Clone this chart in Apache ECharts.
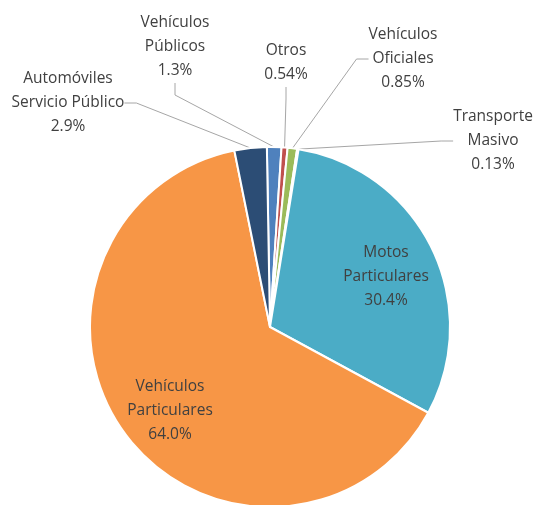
<!DOCTYPE html>
<html>
<head>
<meta charset="utf-8">
<title>Parque automotor</title>
<script src="https://cdn.jsdelivr.net/npm/echarts@6/dist/echarts.min.js"></script>
<style>
  html, body { margin: 0; padding: 0; background: #fff; }
  #chart { width: 545px; height: 505px; }
</style>
</head>
<body>
<div id="chart"></div>
<script>
// categories in drawing order (clockwise from the top)
const categories = [
  "Vehículos\nPúblicos",
  "Otros",
  "Vehículos\nOficiales",
  "Transporte\nMasivo",
  "Motos\nParticulares",
  "Vehículos\nParticulares",
  "Automóviles\nServicio Público"
];
const shares = [1.3, 0.54, 0.85, 0.13, 30.4, 64.0, 2.9];
const colors = ["#4F81BD", "#C0504D", "#9BBB59", "#8064A2", "#4BACC6", "#F79646", "#2C4D75"];

// where each label sits (center of the text block)
const labelSpots = [
  [175, 47],
  [286, 63],
  [403, 59],
  [493, 141],
  [386, 277],
  [170, 411],
  [68, 103]
];
const insideLabels = [4, 5];

const fmt = (v) => (v >= 1 ? v.toFixed(1) : v.toFixed(2)) + "%";

const chart = echarts.init(document.getElementById("chart"));

chart.setOption({
  backgroundColor: "#fff",
  animation: false,
  series: [{
    type: "pie",
    center: [270, 327],
    radius: 180,
    startAngle: 91,
    clockwise: true,
    avoidLabelOverlap: false,
    itemStyle: {
      borderColor: "#fff",
      borderWidth: 2
    },
    label: {
      show: true,
      position: "outside",
      formatter: (p) => p.name + "\n" + fmt(p.value),
      color: "#404040",
      fontFamily: "Open Sans",
      fontSize: 15.5,
      lineHeight: 24,
      align: "center"
    },
    labelLine: {
      show: true,
      length: 10,
      length2: 12,
      smooth: false,
      lineStyle: { color: "#A6A6A6", width: 1 }
    },
    labelLayout: (params) => {
      const spot = labelSpots[params.dataIndex];
      return {
        x: spot[0],
        y: spot[1],
        align: "center",
        verticalAlign: "middle"
      };
    },
    data: categories.map((name, i) => ({
      name: name,
      value: shares[i],
      itemStyle: { color: colors[i] },
      labelLine: { show: insideLabels.indexOf(i) < 0 }
    }))
  }]
});
</script>
</body>
</html>
